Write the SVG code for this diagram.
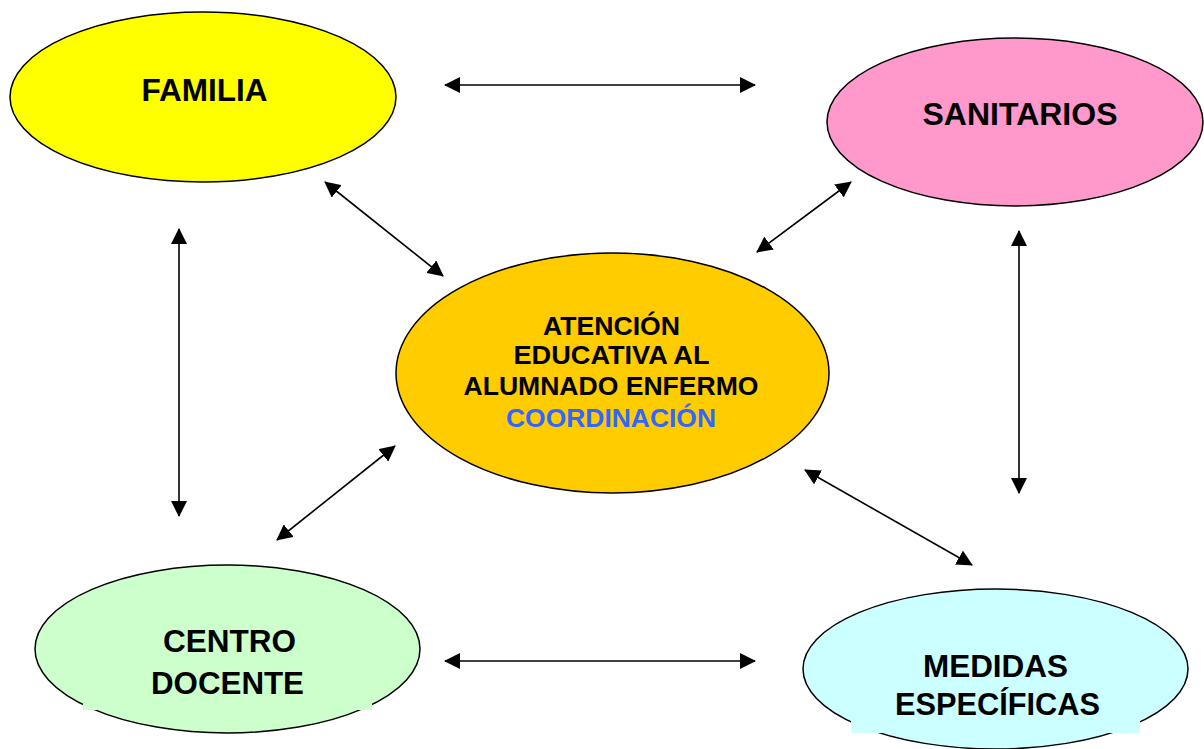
<svg xmlns="http://www.w3.org/2000/svg" width="1204" height="749" viewBox="0 0 1204 749">
<style>
.n{stroke:#000;stroke-width:1.5}
.t{font-family:"Liberation Sans",Arial,sans-serif;font-weight:bold;text-anchor:middle;fill:#000}
.big{font-size:30.5px}
.mid{font-size:25px}
.c line{stroke:#000;stroke-width:1.6;marker-start:url(#ah);marker-end:url(#ah)}
</style>
<defs>
<marker id="ah" viewBox="0 0 16 16" refX="15" refY="8" markerWidth="16" markerHeight="16" markerUnits="userSpaceOnUse" orient="auto-start-reverse">
<path d="M0,0 L16,8 L0,16 z" fill="#000"/>
</marker>
</defs>
<rect width="1204" height="749" fill="#fff"/>
<g id="familia">
<ellipse class="n" cx="203" cy="97" rx="193" ry="85" fill="#FFFF00"/>
<text class="t big" x="204.5" y="101" textLength="126" lengthAdjust="spacingAndGlyphs">FAMILIA</text>
</g>
<g id="sanitarios">
<ellipse class="n" cx="1015" cy="122" rx="188" ry="84" fill="#FF99CC"/>
<text class="t big" x="1020" y="125" textLength="195" lengthAdjust="spacingAndGlyphs">SANITARIOS</text>
</g>
<g id="atencion">
<ellipse class="n" cx="612.5" cy="373" rx="216.5" ry="120" fill="#FFCC00"/>
<text class="t mid" x="611.5" y="335" textLength="137" lengthAdjust="spacingAndGlyphs">ATENCIÓN</text>
<text class="t mid" x="611.5" y="364" textLength="196" lengthAdjust="spacingAndGlyphs">EDUCATIVA AL</text>
<text class="t mid" x="611" y="395" textLength="295" lengthAdjust="spacingAndGlyphs">ALUMNADO ENFERMO</text>
<text class="t mid" x="611" y="427" textLength="210" lengthAdjust="spacingAndGlyphs" style="fill:#3366FF">COORDINACIÓN</text>
</g>
<g id="centro">
<ellipse class="n" cx="227.5" cy="649" rx="192.5" ry="84" fill="#CCFFCC"/>
<rect x="83" y="620" width="289" height="90" fill="#CCFFCC"/>
<text class="t big" x="229.5" y="652" textLength="133" lengthAdjust="spacingAndGlyphs">CENTRO</text>
<text class="t big" x="227.5" y="694" textLength="153" lengthAdjust="spacingAndGlyphs">DOCENTE</text>
</g>
<g id="medidas">
<ellipse class="n" cx="995.5" cy="669" rx="192.5" ry="80" fill="#CCFFFF"/>
<rect x="851" y="640" width="289" height="93" fill="#CCFFFF"/>
<text class="t big" x="995.5" y="677" textLength="145" lengthAdjust="spacingAndGlyphs">MEDIDAS</text>
<text class="t big" x="997.5" y="715" textLength="205" lengthAdjust="spacingAndGlyphs">ESPECÍFICAS</text>
</g>
<g id="connectors" class="c">
<line x1="445" y1="85" x2="755" y2="85"/>
<line x1="325" y1="182" x2="443" y2="276"/>
<line x1="851" y1="182" x2="757" y2="252"/>
<line x1="179" y1="229" x2="179" y2="516"/>
<line x1="1019" y1="231" x2="1019" y2="493"/>
<line x1="395" y1="446" x2="277" y2="540"/>
<line x1="805" y1="470" x2="972" y2="565"/>
<line x1="445" y1="661" x2="755" y2="661"/>
</g>
</svg>
